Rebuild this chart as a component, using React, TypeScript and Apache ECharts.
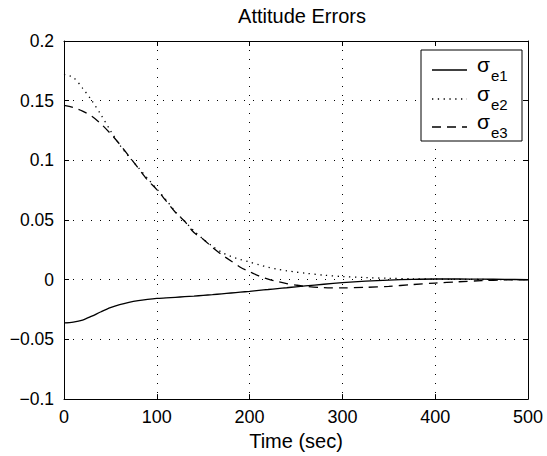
import React, { useEffect, useRef } from "react";
import * as echarts from "echarts";

const time = [0, 10, 20, 30, 40, 50, 60, 70, 80, 90, 100, 110, 120, 130, 140, 150, 160, 170, 180, 190, 200, 210, 220, 230, 240, 250, 260, 280, 300, 325, 350, 375, 400, 425, 450, 475, 500];

const sigmaE1 = [-0.0362, -0.0355, -0.0338, -0.0305, -0.0268, -0.0234, -0.0208, -0.0189, -0.0175, -0.0165, -0.0157, -0.0152, -0.0147, -0.0142, -0.0137, -0.0131, -0.0125, -0.0118, -0.0111, -0.0104, -0.0097, -0.0089, -0.0082, -0.0074, -0.0067, -0.0059, -0.0052, -0.0038, -0.0025, -0.0012, -0.0003, 0.0003, 0.0006, 0.0006, 0.0005, 0.0003, 0.0001];

const sigmaE2 = [0.172, 0.1695, 0.1605, 0.15, 0.138, 0.125, 0.113, 0.103, 0.094, 0.085, 0.076, 0.067, 0.057, 0.049, 0.041, 0.034, 0.028, 0.023, 0.0195, 0.017, 0.0148, 0.0125, 0.0105, 0.0088, 0.0075, 0.0064, 0.0055, 0.0038, 0.0027, 0.0018, 0.0012, 0.0008, 0.0005, 0.0003, 0.0002, 0.0001, 0.0];

const sigmaE3 = [0.146, 0.1443, 0.1413, 0.137, 0.1305, 0.1225, 0.1135, 0.1035, 0.0935, 0.0835, 0.0755, 0.066, 0.0565, 0.049, 0.0395, 0.034, 0.027, 0.021, 0.0157, 0.0105, 0.0068, 0.0032, 0.0005, -0.0015, -0.0033, -0.0045, -0.0055, -0.0066, -0.0068, -0.0064, -0.0055, -0.0041, -0.0028, -0.0017, -0.0008, -0.0002, 0.0];

const xTicks = [0, 100, 200, 300, 400, 500];
const yTicks = [-0.1, -0.05, 0, 0.05, 0.1, 0.15, 0.2];

const seriesNames = ["σe1", "σe2", "σe3"];
const legendSymbol = "σ";
const legendSubs = ["e1", "e2", "e3"];

const FONT = "Liberation Sans";
const DOTTED: number[] = [1.3, 4.5];
const DASHED: number[] = [9, 6];
const dashTypes: (string | number[])[] = ["solid", DOTTED, DASHED];

export default function App() {
  const ref = useRef<HTMLDivElement>(null);
  useEffect(() => {
    if (!ref.current) return;
    const chart = echarts.init(ref.current, undefined, { renderer: "svg" });
    const pairs = (vals: number[]) => time.map((t, i) => [t, vals[i]]);
    const fmtY = (v: number) => {
      const r = Math.round(v * 1000) / 1000;
      return String(r).replace("-", "\u2212");
    };
    const xCommon = {
      type: "value",
      min: xTicks[0],
      max: xTicks[xTicks.length - 1],
      interval: 100,
      axisLine: { show: true, onZero: false, lineStyle: { color: "#000", width: 1 } },
      axisTick: { show: true, inside: true, length: 5, lineStyle: { color: "#000" } },
    };
    const yCommon = {
      type: "value",
      min: yTicks[0],
      max: yTicks[yTicks.length - 1],
      interval: 0.05,
      axisLine: { show: true, onZero: false, lineStyle: { color: "#000", width: 1 } },
      axisTick: { show: true, inside: true, length: 5, lineStyle: { color: "#000" } },
    };
    const gridLine = { show: true, lineStyle: { color: "#000", type: [1, 8], width: 1 } };

    // legend drawn as graphic elements
    const lgX = 421, lgY = 50, lgW = 101, lgH = 91;
    const rowY = [70, 99, 127];
    const legendEls: any[] = [
      {
        type: "rect",
        shape: { x: lgX, y: lgY, width: lgW, height: lgH },
        style: { fill: "#fff", stroke: "#000", lineWidth: 1 },
        z: 100,
      },
    ];
    seriesNames.forEach((_, i) => {
      const t = dashTypes[i];
      legendEls.push({
        type: "line",
        shape: { x1: 432, y1: rowY[i], x2: 467, y2: rowY[i] },
        style: { stroke: "#000", lineWidth: 1.3, lineDash: t === "solid" ? null : t },
        z: 101,
      });
      legendEls.push({
        type: "text",
        x: 477,
        y: rowY[i] + 5,
        style: { text: legendSymbol, fontFamily: FONT, fontSize: 21, fill: "#000", textVerticalAlign: "bottom" },
        z: 101,
      });
      legendEls.push({
        type: "text",
        x: 491,
        y: rowY[i] + 13,
        style: { text: legendSubs[i], fontFamily: FONT, fontSize: 15, fill: "#000", textVerticalAlign: "bottom" },
        z: 101,
      });
    });

    chart.setOption({
      animation: false,
      backgroundColor: "#fff",
      title: {
        text: "Attitude Errors",
        left: 297,
        textAlign: "center",
        top: 1,
        textStyle: { fontFamily: FONT, fontSize: 20, fontWeight: "normal", color: "#000" },
      },
      grid: { left: 64, right: 19, top: 41, bottom: 52, containLabel: false },
      xAxis: [
        {
          ...xCommon,
          position: "bottom",
          name: "Time (sec)",
          nameLocation: "middle",
          nameGap: 30,
          nameTextStyle: { fontFamily: FONT, fontSize: 20, color: "#000" },
          axisLabel: { fontFamily: FONT, fontSize: 18, color: "#000", margin: 9 },
          splitLine: gridLine,
        },
        {
          ...xCommon,
          position: "top",
          axisLabel: { show: false },
          splitLine: { show: false },
        },
      ],
      yAxis: [
        {
          ...yCommon,
          position: "left",
          axisLabel: { fontFamily: FONT, fontSize: 17.5, color: "#000", margin: 10, formatter: fmtY },
          splitLine: gridLine,
        },
        {
          ...yCommon,
          position: "right",
          axisLabel: { show: false },
          splitLine: { show: false },
        },
      ],
      graphic: legendEls,
      series: seriesNames.map((name, i) => ({
        name,
        type: "line",
        data: pairs([sigmaE1, sigmaE2, sigmaE3][i]),
        showSymbol: false,
        symbol: "none",
        smooth: 0.3,
        lineStyle: { color: "#000", width: 1.3, type: dashTypes[i] },
        itemStyle: { color: "#000" },
      })),
    });
    return () => chart.dispose();
  }, []);
  return <div ref={ref} style={{ width: 547, height: 456, position: "absolute", left: 0, top: 0 }} />;
}
